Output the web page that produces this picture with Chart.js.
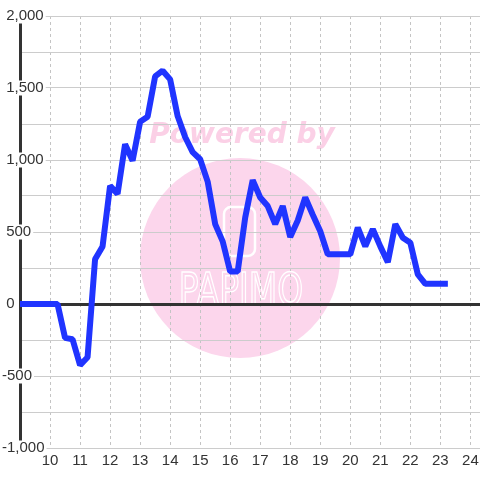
<!DOCTYPE html>
<html>
<head>
<meta charset="utf-8">
<script src="https://cdn.jsdelivr.net/npm/chart.js@4.4.1/dist/chart.umd.min.js"></script>
<style>
  html, body { margin: 0; padding: 0; background: #fff; }
</style>
</head>
<body>
<canvas id="chart" width="480" height="480"></canvas>
<script>
// time of day (hours) and running difference
const hours = [
  9, 9.25, 9.5, 9.75, 10, 10.25, 10.5, 10.75, 11, 11.25, 11.5, 11.75,
  12, 12.25, 12.5, 12.75, 13, 13.25, 13.5, 13.75, 14, 14.25, 14.5, 14.75,
  15, 15.25, 15.5, 15.75, 16, 16.25, 16.5, 16.75, 17, 17.25, 17.5, 17.75,
  18, 18.25, 18.5, 18.75, 19, 19.25, 19.5, 19.75, 20, 20.25, 20.5, 20.75,
  21, 21.25, 21.5, 21.75, 22, 22.25, 22.5, 22.75, 23, 23.25
];
const diff = [
  0, 0, 0, 0, 0, 0, -235, -245, -425, -370, 310, 400,
  820, 765, 1110, 995, 1265, 1300, 1580, 1620, 1560, 1305, 1160, 1055,
  1005, 850, 555, 435, 225, 225, 600, 860, 740, 680, 555, 680,
  465, 580, 740, 620, 505, 345, 345, 345, 345, 530, 400, 520,
  400, 290, 555, 460, 425, 205, 140, 140, 140, 140
];
const yLabelled = [-1000, -500, 0, 500, 1000, 1500, 2000];

const font = { family: 'Liberation Sans', size: 15, lineHeight: 1 };

// pink "Powered by PAPIMO" stamp behind the grid
const watermark = {
  id: 'watermark',
  beforeDraw(chart) {
    const ctx = chart.ctx;
    ctx.save();
    ctx.fillStyle = '#fff';
    ctx.fillRect(0, 0, chart.width, chart.height);

    ctx.fillStyle = '#fcd6ec';
    ctx.beginPath();
    ctx.arc(240, 258, 100, 0, Math.PI * 2);
    ctx.fill();

    ctx.fillStyle = '#fbd0e6';
    ctx.font = 'italic bold 28px "DejaVu Sans"';
    ctx.textAlign = 'center';
    ctx.textBaseline = 'alphabetic';
    ctx.fillText('Powered by', 242, 143);

    ctx.strokeStyle = '#fff';
    ctx.lineWidth = 2.5;
    ctx.beginPath();
    ctx.roundRect(224, 207, 31, 49, 7);
    ctx.stroke();

    ctx.save();
    ctx.translate(241, 305);
    ctx.scale(0.75, 1);
    ctx.font = '44px "DejaVu Sans"';
    ctx.lineWidth = 1.5;
    ctx.strokeText('PAPIMO', 0, 0);
    ctx.restore();
    ctx.restore();
  }
};

new Chart(document.getElementById('chart'), {
  type: 'line',
  data: {
    datasets: [{
      data: hours.map((h, i) => ({ x: h, y: diff[i] })),
      borderColor: '#2034ff',
      borderWidth: 6,
      borderJoinStyle: 'bevel',
      pointRadius: 0,
      tension: 0,
      fill: false
    }]
  },
  options: {
    responsive: false,
    animation: false,
    layout: { padding: { left: 2, top: 16, right: 0, bottom: 0 } },
    plugins: { legend: { display: false }, tooltip: { enabled: false } },
    scales: {
      x: {
        type: 'linear',
        min: 9,
        max: 24.32,
        afterBuildTicks: s => { s.ticks = s.ticks.filter(t => t.value >= 10 && t.value <= 24); },
        afterFit: s => { s.height = 32; s.paddingLeft = 0; s.paddingRight = 0; },
        border: { display: false, dash: [3, 3] },
        grid: { drawTicks: false, color: '#c4c4c4', lineWidth: 1 },
        ticks: {
          stepSize: 1,
          includeBounds: false,
          autoSkip: false,
          maxRotation: 0,
          padding: 5,
          color: '#333',
          font: font
        }
      },
      y: {
        min: -1000,
        max: 2000,
        afterFit: s => { s.width = 18; },
        border: { display: true, color: '#333', width: 3 },
        grid: {
          drawTicks: false,
          color: c => (c.tick && c.tick.value === 0 ? '#333' : '#cccccc'),
          lineWidth: c => (c.tick && c.tick.value === 0 ? 3 : 1)
        },
        ticks: {
          stepSize: 250,
          mirror: true,
          padding: -18,
          color: '#333',
          font: font,
          showLabelBackdrop: true,
          backdropColor: '#fff',
          backdropPadding: { left: 1, right: 2, top: 0, bottom: 0 },
          callback: v => {
            if (!yLabelled.includes(v)) return '';
            return (v < 0 ? '' : ' ') + v.toLocaleString('en-US');
          }
        }
      }
    }
  },
  plugins: [watermark]
});
</script>
</body>
</html>
